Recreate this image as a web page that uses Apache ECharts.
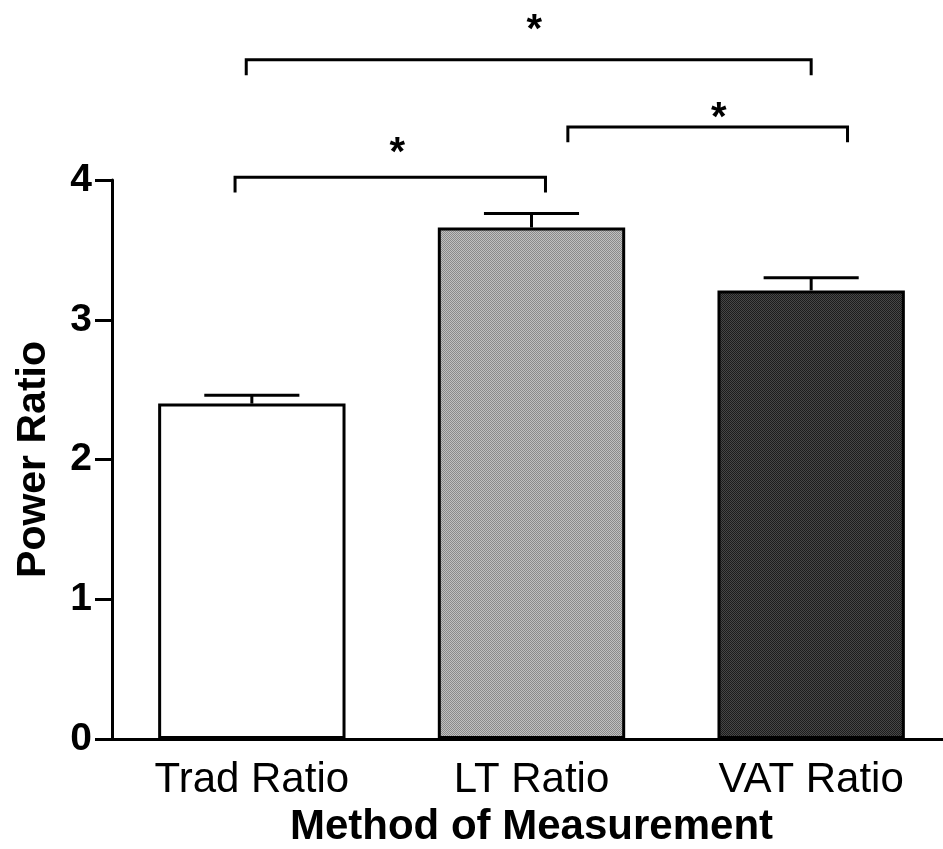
<!DOCTYPE html>
<html>
<head>
<meta charset="utf-8">
<script src="https://cdn.jsdelivr.net/npm/echarts@6/dist/echarts.min.js"></script>
<style>
  html, body { margin: 0; padding: 0; background: #ffffff; overflow: hidden; }
  #chart { width: 943px; height: 849px; }
</style>
</head>
<body>
<div id="chart"></div>
<script>
// Power ratio by method of measurement (mean + SE)
const categories = ['Trad Ratio', 'LT Ratio', 'VAT Ratio'];
const meanValues = [2.40, 3.66, 3.21];
const errorValues = [0.06, 0.10, 0.09];
const yTicks = [0, 1, 2, 3, 4];

// Significance brackets, in bar-index units (0..2) and power-ratio units
const bracketStart = [-0.02, -0.06, 1.13];
const bracketEnd = [2.00, 1.05, 2.13];
const bracketLevel = [4.86, 4.02, 4.38];
const bracketDrop = [0.11, 0.11, 0.11];
const starX = [1.01, 0.52, 1.67];
const starLevel = [5.14, 4.26, 4.51];
const starText = ['*', '*', '*'];

const FONT = '"Liberation Sans", Arial, Helvetica, sans-serif';

// fine two-tone dither used as a bar fill
function dither(light, dark) {
  const c = document.createElement('canvas');
  c.width = 2; c.height = 2;
  const g = c.getContext('2d');
  g.fillStyle = light; g.fillRect(0, 0, 2, 2);
  g.fillStyle = dark; g.fillRect(0, 0, 1, 1); g.fillRect(1, 1, 1, 1);
  return { image: c, repeat: 'repeat' };
}
const barFills = ['#ffffff', dither('#c0c0c0', '#8a8a8a'), dither('#474747', '#1c1c1c')];

const chart = echarts.init(document.getElementById('chart'), null, { renderer: 'canvas' });

const option = {
  animation: false,
  backgroundColor: '#ffffff',
  // the plot area runs a few pixels past the right edge of the page
  grid: { left: 112, top: 180, width: 839, height: 559, containLabel: false, outerBoundsMode: 'none' },
  xAxis: [
    {
      type: 'category',
      data: categories,
      boundaryGap: true,
      axisLine: { show: true, lineStyle: { color: '#000', width: 3 } },
      axisTick: { show: false },
      axisLabel: { color: '#000', fontFamily: FONT, fontSize: 42, margin: 20 },
      name: 'Method of Measurement',
      nameLocation: 'middle',
      nameGap: 67,
      nameTextStyle: { color: '#000', fontFamily: FONT, fontSize: 42, fontWeight: 'bold' },
      splitLine: { show: false }
    },
    {
      type: 'value',
      min: -0.5,
      max: 2.5,
      show: false
    }
  ],
  yAxis: {
    type: 'value',
    min: yTicks[0],
    max: yTicks[yTicks.length - 1],
    interval: 1,
    axisLine: { show: true, onZero: false, lineStyle: { color: '#000', width: 3 } },
    axisTick: { show: true, inside: false, length: 17, lineStyle: { color: '#000', width: 3 } },
    axisLabel: { color: '#000', fontFamily: FONT, fontSize: 39, fontWeight: 'bold', margin: 20 },
    splitLine: { show: false },
    name: 'Power Ratio',
    nameLocation: 'middle',
    nameGap: 58,
    nameTextStyle: { color: '#000', fontFamily: FONT, fontSize: 41, fontWeight: 'bold' }
  },
  series: [
    {
      type: 'bar',
      xAxisIndex: 0,
      barWidth: '67%',
      data: meanValues.map((v, i) => ({
        value: v,
        itemStyle: { color: barFills[i], borderColor: '#000', borderWidth: 3 }
      })),
      z: 2
    },
    {
      // upper error bars
      type: 'custom',
      xAxisIndex: 0,
      z: 3,
      data: meanValues.map((v, i) => [i, v, errorValues[i]]),
      renderItem: function (params, api) {
        const i = api.value(0);
        const m = api.value(1);
        const e = api.value(2);
        const base = api.coord([i, m]);
        const top = api.coord([i, m + e]);
        const half = api.size([1, 0])[0] * 0.17;
        const ls = { stroke: '#000', lineWidth: 3 };
        return {
          type: 'group',
          children: [
            { type: 'line', shape: { x1: base[0], y1: base[1], x2: top[0], y2: top[1] }, style: ls },
            { type: 'line', shape: { x1: top[0] - half, y1: top[1], x2: top[0] + half, y2: top[1] }, style: ls }
          ]
        };
      }
    },
    {
      // significance brackets
      type: 'custom',
      xAxisIndex: 1,
      clip: false,
      z: 3,
      data: bracketStart.map((s, i) => [s, bracketEnd[i], bracketLevel[i], bracketDrop[i]]),
      renderItem: function (params, api) {
        const s = api.value(0), e = api.value(1), lv = api.value(2), d = api.value(3);
        const a = api.coord([s, lv - d]);
        const b = api.coord([s, lv]);
        const c = api.coord([e, lv]);
        const f = api.coord([e, lv - d]);
        return {
          type: 'polyline',
          shape: { points: [a, b, c, f] },
          style: { stroke: '#000', lineWidth: 3, fill: null }
        };
      }
    },
    {
      // significance stars
      type: 'custom',
      xAxisIndex: 1,
      clip: false,
      z: 3,
      data: starX.map((x, i) => [x, starLevel[i], i]),
      renderItem: function (params, api) {
        const p = api.coord([api.value(0), api.value(1)]);
        return {
          type: 'text',
          x: p[0],
          y: p[1] + 10,
          style: {
            text: starText[api.value(2)],
            fill: '#000',
            font: 'bold 40px ' + FONT,
            align: 'center',
            verticalAlign: 'middle',
            textAlign: 'center',
            textVerticalAlign: 'middle'
          }
        };
      }
    }
  ]
};

chart.setOption(option);
</script>
</body>
</html>
